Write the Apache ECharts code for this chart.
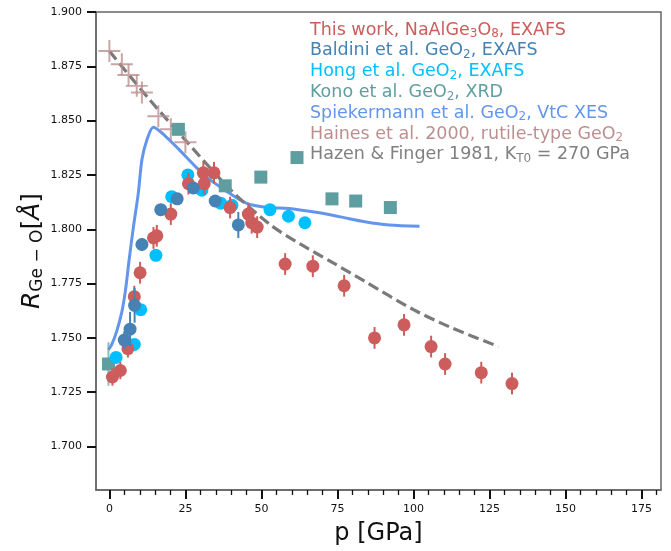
<!DOCTYPE html>
<html>
<head>
<meta charset="utf-8">
<script src="https://cdn.jsdelivr.net/npm/echarts@6/dist/echarts.min.js"></script>
<style>
  html, body { margin: 0; padding: 0; background: #fff; }
  #main { width: 671px; height: 551px; }
</style>
</head>
<body>
<div id="main"></div>
<script>
// this work, NaAlGe3O8 EXAFS
const workP = [1.0, 3.6, 6.1, 8.2, 10.1, 14.5, 15.6, 20.2, 26.0, 30.9, 31.2, 34.4, 39.7, 45.7, 46.8, 48.6, 57.8, 66.9, 77.2, 87.2, 96.9, 105.8, 110.4, 122.3, 132.4];
const workR = [1.732, 1.735, 1.745, 1.769, 1.780, 1.796, 1.797, 1.807, 1.821, 1.826, 1.821, 1.826, 1.810, 1.807, 1.803, 1.801, 1.784, 1.783, 1.774, 1.750, 1.756, 1.746, 1.738, 1.734, 1.729];
const workErr = [0.004, 0.004, 0.004, 0.005, 0.005, 0.005, 0.005, 0.005, 0.005, 0.005, 0.005, 0.005, 0.005, 0.005, 0.005, 0.005, 0.005, 0.005, 0.005, 0.005, 0.005, 0.005, 0.005, 0.005, 0.005];

// Baldini et al.
const baldiniP = [4.9, 6.8, 8.3, 10.7, 16.9, 22.3, 27.6, 34.8, 42.4];
const baldiniR = [1.749, 1.754, 1.765, 1.793, 1.809, 1.814, 1.819, 1.813, 1.802];
const baldiniErr = [0.004, 0.008, 0.008, 0.003, 0.002, 0.002, 0.002, 0.002, 0.006];

// Hong et al.
const hongP = [2.2, 8.2, 10.3, 15.3, 20.5, 25.8, 30.4, 36.6, 40.3, 52.8, 58.9, 64.3];
const hongR = [1.741, 1.747, 1.763, 1.788, 1.815, 1.825, 1.818, 1.812, 1.811, 1.809, 1.806, 1.803];

// Kono et al. (XRD)
const konoP = [-0.3, 22.7, 38.1, 49.8, 61.7, 73.2, 81.0, 92.4];
const konoR = [1.738, 1.846, 1.820, 1.824, 1.833, 1.814, 1.813, 1.810];
const konoErr = [0.010, 0, 0, 0, 0, 0, 0, 0];

// Spiekermann et al. (curve)
const spiekP = [-0.3, 0.8, 2.4, 4.1, 5.3, 6.5, 7.9, 9.5, 10.7, 12.3, 14.5, 18.3, 22.7, 28.2, 32, 38, 45, 52, 59, 68, 76, 84, 92, 102];
const spiekR = [1.7445, 1.747, 1.753, 1.762, 1.772, 1.786, 1.801, 1.8165, 1.832, 1.841, 1.847, 1.843, 1.837, 1.829, 1.824, 1.818, 1.812, 1.810, 1.8096, 1.8078, 1.8057, 1.8035, 1.802, 1.8014];

// Haines et al. 2000
const hainesP = [0, 4.1, 6.3, 9.0, 10.7, 16.1, 20.2, 25.0];
const hainesR = [1.882, 1.876, 1.871, 1.866, 1.863, 1.852, 1.846, 1.840];

// Hazen & Finger 1981 (dashed)
const hazenP = [0, 13, 25, 40, 53, 63, 73, 84, 100, 112, 128];
const hazenR = [1.882, 1.860, 1.841, 1.818, 1.802, 1.793, 1.785, 1.776, 1.763, 1.755, 1.746];

const xTicks = [0, 25, 50, 75, 100, 125, 150, 175];
const xMinor = [5, 10, 15, 20, 30, 35, 40, 45, 55, 60, 65, 70, 80, 85, 90, 95, 105, 110, 115, 120, 130, 135, 140, 145, 155, 160, 165, 170, 180];
const yTicks = [1.700, 1.725, 1.750, 1.775, 1.800, 1.825, 1.850, 1.875, 1.900];

const names = {
  work: 'This work, NaAlGe3O8, EXAFS',
  baldini: 'Baldini et al. GeO2, EXAFS',
  hong: 'Hong et al. GeO2, EXAFS',
  kono: 'Kono et al. GeO2, XRD',
  spiek: 'Spiekermann et al. GeO2, VtC XES',
  haines: 'Haines et al. 2000, rutile-type GeO2',
  hazen: 'Hazen & Finger 1981, KT0 = 270 GPa'
};
const richNames = {};
richNames[names.work] = '{a|This work, NaAlGe}{s|3}{a|O}{s|8}{a|, EXAFS}';
richNames[names.baldini] = '{a|Baldini et al. GeO}{s|2}{a|, EXAFS}';
richNames[names.hong] = '{a|Hong et al. GeO}{s|2}{a|, EXAFS}';
richNames[names.kono] = '{a|Kono et al. GeO}{s|2}{a|, XRD}';
richNames[names.spiek] = '{a|Spiekermann et al. GeO}{s|2}{a|, VtC XES}';
richNames[names.haines] = '{a|Haines et al. 2000, rutile-type GeO}{s|2}';
richNames[names.hazen] = '{a|Hazen & Finger 1981, K}{s|T0}{a| = 270 GPa}';

const FONT = 'DejaVu Sans';
const pair = (p, r) => p.map((x, i) => [x, r[i]]);
const plus = 'path://M-0.09,-1 H0.09 V-0.09 H1 V0.09 H0.09 V1 H-0.09 V0.09 H-1 V-0.09 H-0.09 Z';

// vertical error bars, drawn through the axis scales
function errBars(p, r, e, color, z) {
  return {
    type: 'custom',
    xAxisIndex: 0,
    yAxisIndex: 0,
    silent: true,
    z: z,
    data: p.map((x, i) => [x, r[i], e[i]]),
    encode: { x: 0, y: 1 },
    renderItem(params, api) {
      const x = api.value(0), y = api.value(1), d = api.value(2);
      if (!d) return null;
      const a = api.coord([x, y + d]);
      const b = api.coord([x, y - d]);
      return {
        type: 'line',
        shape: { x1: a[0], y1: a[1], x2: b[0], y2: b[1] },
        style: { stroke: color, lineWidth: 2 }
      };
    }
  };
}

const myChart = echarts.init(document.getElementById('main'));
const legendColors = [
  [names.work, '#CD5C5C'],
  [names.baldini, '#4682B4'],
  [names.hong, '#00BFFF'],
  [names.kono, '#5F9EA0'],
  [names.spiek, '#6495ED'],
  [names.haines, '#BC8F8F'],
  [names.hazen, '#808080']
];

let option = {
  animation: false,
  backgroundColor: '#fff',
  grid: { left: 96, right: 10, top: 12, bottom: 61, show: true, borderColor: '#666', borderWidth: 1.5 },
  legend: {
    orient: 'vertical',
    left: 300,
    top: 16,
    icon: 'none',
    itemWidth: 0,
    itemHeight: 0,
    itemGap: 1.8,
    selectedMode: false,
    data: legendColors.map(([n, c]) => ({ name: n, icon: 'none', textStyle: { color: c } })),
    formatter: n => richNames[n],
    textStyle: {
      fontFamily: FONT,
      fontSize: 17.5,
      rich: {
        a: { fontFamily: FONT, fontSize: 17.5, lineHeight: 20 },
        s: { fontFamily: FONT, fontSize: 12, lineHeight: 12, verticalAlign: 'bottom' }
      }
    }
  },
  xAxis: [
    {
      type: 'value',
      min: -4.4,
      max: 181.4,
      name: 'p [GPa]',
      nameLocation: 'middle',
      nameGap: 32,
      nameTextStyle: { fontFamily: FONT, fontSize: 24, color: '#111' },
      axisLine: { show: true, onZero: false, lineStyle: { color: '#666', width: 1.5 } },
      axisTick: { show: true, customValues: xTicks, length: 9, lineStyle: { color: '#111', width: 2 } },
      axisLabel: { customValues: xTicks, fontFamily: FONT, fontSize: 11, color: '#111', margin: 14 },
      splitLine: { show: false }
    },
    {
      type: 'value',
      min: -4.4,
      max: 181.4,
      position: 'bottom',
      axisLine: { show: false, onZero: false },
      axisTick: { show: true, customValues: xMinor, length: 5, lineStyle: { color: '#111', width: 1.3 } },
      axisLabel: { show: false },
      splitLine: { show: false }
    }
  ],
  yAxis: {
    type: 'value',
    min: 1.68,
    max: 1.90,
    name: '{i|R}{s|Ge − O}{a|[}{i|Å}{a|]}',
    nameLocation: 'middle',
    nameGap: 50,
    nameMoveOverlap: false,
    nameRotate: 90,
    nameTextStyle: {
      color: '#111',
      rich: {
        i: { fontFamily: FONT, fontSize: 25, fontStyle: 'italic', color: '#111', lineHeight: 28 },
        a: { fontFamily: FONT, fontSize: 25, color: '#111', lineHeight: 28 },
        s: { fontFamily: FONT, fontSize: 17, color: '#111', lineHeight: 17, verticalAlign: 'bottom' }
      }
    },
    axisLine: { show: true, onZero: false, lineStyle: { color: '#666', width: 1.5 } },
    axisTick: { show: true, customValues: yTicks, length: 9, lineStyle: { color: '#111', width: 2 } },
    axisLabel: { customValues: yTicks, fontFamily: FONT, fontSize: 11, color: '#111', margin: 14, formatter: v => v.toFixed(3) },
    splitLine: { show: false }
  },
  series: [
    {
      name: names.spiek,
      type: 'line',
      xAxisIndex: 0,
      data: pair(spiekP, spiekR),
      showSymbol: false,
      smooth: 0.3,
      z: 1,
      lineStyle: { color: '#6495ED', width: 3 },
      itemStyle: { color: '#6495ED' }
    },
    {
      name: names.hazen,
      type: 'line',
      xAxisIndex: 0,
      data: pair(hazenP, hazenR),
      showSymbol: false,
      smooth: 0.3,
      z: 1,
      lineStyle: { color: '#7a7a7a', width: 3.2, type: [11, 5] },
      itemStyle: { color: '#808080' }
    },
    {
      name: names.haines,
      type: 'scatter',
      xAxisIndex: 0,
      data: pair(hainesP, hainesR),
      symbol: plus,
      symbolSize: 22,
      z: 2,
      itemStyle: { color: '#BC8F8F' }
    },
    errBars(konoP, konoR, konoErr, 'rgba(95,158,160,0.7)', 2),
    {
      name: names.kono,
      type: 'scatter',
      xAxisIndex: 0,
      data: pair(konoP, konoR),
      symbol: 'rect',
      symbolSize: 13,
      z: 3,
      itemStyle: { color: '#5F9EA0', opacity: 1 }
    },
    {
      name: names.hong,
      type: 'scatter',
      xAxisIndex: 0,
      data: pair(hongP, hongR),
      symbolSize: 13,
      z: 3,
      itemStyle: { color: '#00BFFF', opacity: 1 }
    },
    errBars(workP, workR, workErr, '#CD5C5C', 4),
    {
      name: names.work,
      type: 'scatter',
      xAxisIndex: 0,
      data: pair(workP, workR),
      symbolSize: 13,
      z: 4,
      itemStyle: { color: '#CD5C5C', opacity: 1 }
    },
    errBars(baldiniP, baldiniR, baldiniErr, '#4682B4', 5),
    {
      name: names.baldini,
      type: 'scatter',
      xAxisIndex: 0,
      data: pair(baldiniP, baldiniR),
      symbolSize: 13,
      z: 5,
      itemStyle: { color: '#4682B4', opacity: 1 }
    }
  ]
};
myChart.setOption(option);
</script>
</body>
</html>
